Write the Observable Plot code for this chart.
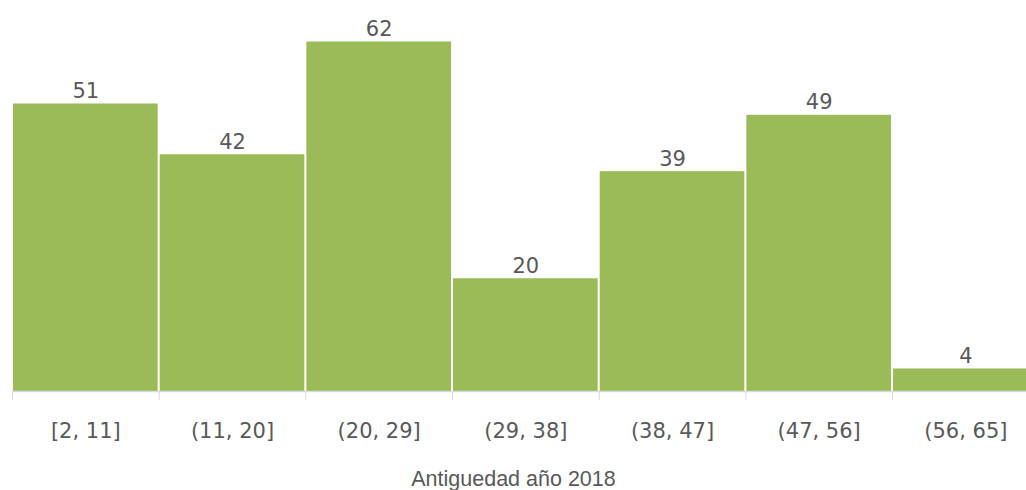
<!DOCTYPE html>
<html>
<head>
<meta charset="utf-8">
<script src="https://cdn.jsdelivr.net/npm/d3@7"></script>
<script src="https://cdn.jsdelivr.net/npm/@observablehq/plot@0.6"></script>
<style>
  html, body { margin: 0; padding: 0; background: #ffffff; }
  #chart svg { display: block; overflow: hidden; }
</style>
</head>
<body>
<div id="chart"></div>
<script>
const categories = ["[2, 11]", "(11, 20]", "(20, 29]", "(29, 38]", "(38, 47]", "(47, 56]", "(56, 65]"];
const counts = [51, 42, 62, 20, 39, 49, 4];
const axisTitle = "Antiguedad año 2018";

const data = categories.map((c, i) => ({cat: c, i, count: counts[i]}));
const edges = d3.range(categories.length + 1);
const centers = d3.range(categories.length).map(i => i + 0.5);

const chart = Plot.plot({
  width: 1026,
  height: 490,
  marginTop: 41.5,
  marginBottom: 99,
  marginLeft: 12,
  marginRight: 0,
  style: {background: "#ffffff", color: "#595959"},
  x: {type: "linear", domain: [0, categories.length], range: [12, 1038.7], axis: null},
  y: {domain: [0, 62], axis: null},
  marks: [
    Plot.rectY(data, {x1: d => d.i, x2: d => d.i + 1, y: "count", fill: "#9BBB59", insetLeft: 1, insetRight: 1}),
    Plot.ruleY([0], {stroke: "#d9d9d9", strokeWidth: 1.5}),
    Plot.axisX(edges, {anchor: "bottom", tickSize: 9, tickFormat: () => "", stroke: "#d9d9d9"}),
    Plot.axisX(centers, {anchor: "bottom", tickSize: 0, tickPadding: 32, tickFormat: d => categories[Math.floor(d)], fontSize: 21, fontFamily: "DejaVu Sans", fill: "#595959"}),
    Plot.text(data, {x: d => d.i + 0.5, y: "count", text: d => String(d.count), lineAnchor: "bottom", dy: -6, fontSize: 21, fontFamily: "DejaVu Sans", fill: "#595959"}),
    Plot.text([axisTitle], {frameAnchor: "bottom", dy: 94, dx: -6, lineAnchor: "bottom", fontSize: 21.5, fontFamily: "Liberation Sans", fill: "#595959"})
  ]
});
document.getElementById("chart").appendChild(chart);
</script>
</body>
</html>
